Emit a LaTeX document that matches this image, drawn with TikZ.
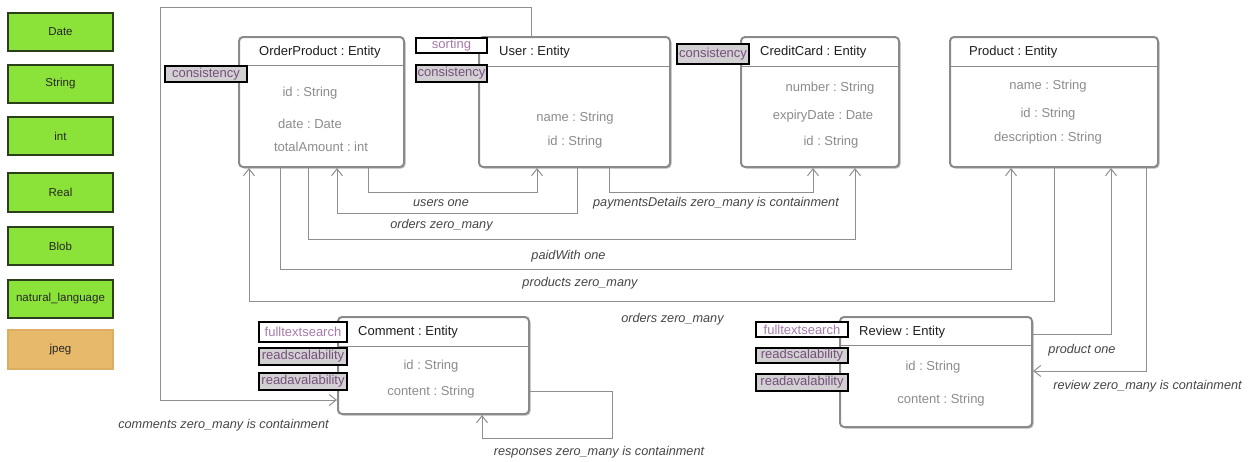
\documentclass[tikz,border=0pt]{standalone}
\usepackage{fontspec}
\setmainfont{Liberation Sans}
\usetikzlibrary{arrows.meta,shadows}
\frenchspacing
\definecolor{boxgray}{HTML}{8A8A8A}
\definecolor{linegray}{HTML}{8F8F8F}
\definecolor{attrgray}{HTML}{8C8C8C}
\definecolor{titlecol}{HTML}{1E1E1E}
\definecolor{lblgray}{HTML}{454545}
\definecolor{taggray}{HTML}{D3D0D3}
\definecolor{tagpurple}{HTML}{74507A}
\definecolor{tagpurplelight}{HTML}{A77AAA}
\definecolor{legendgreen}{HTML}{8BE33A}
\definecolor{legendborder}{HTML}{2B3F1B}
\definecolor{jpegfill}{HTML}{E7B96B}
\definecolor{jpegborder}{HTML}{DBAE62}
\tikzset{
  entity/.style={draw=boxgray, line width=2pt, rounded corners=4pt, fill=white, inner sep=0pt,
    drop shadow={shadow xshift=1.5pt, shadow yshift=-1.5pt, opacity=0.25, fill=black}},
  sep/.style={draw=boxgray, line width=0.8pt},
  ttl/.style={font=\fontsize{13}{15}\selectfont, text=titlecol, anchor=west, inner sep=0pt},
  attr/.style={font=\fontsize{13}{15}\selectfont, text=attrgray, inner sep=0pt},
  lbl/.style={font=\fontsize{12.7}{15}\selectfont\itshape, text=lblgray, inner sep=0pt},
  conn/.style={draw=linegray, line width=1pt, -{Straight Barb[length=7pt,width=11pt]}},
  tagbase/.style={draw=black, line width=1.1pt, inner sep=0pt, font=\fontsize{13}{15}\selectfont},
  tagw/.style={tagbase, fill=white, text=tagpurplelight},
  tagg/.style={tagbase, fill=taggray, text=tagpurple},
  legendbox/.style={draw=legendborder, line width=1.3pt, fill=legendgreen, minimum width=105pt,
    inner sep=0pt, font=\fontsize{11.5}{13}\selectfont, text=black!85},
  jpegbox/.style={legendbox, draw=jpegborder, fill=jpegfill}
}
\begin{document}
\begin{tikzpicture}[x=1pt,y=-1pt]
\useasboundingbox (0,0) rectangle (1252,461);
% legend
\node[legendbox, minimum height=38pt] (lDate) at (60.5,32) {Date};
\node[legendbox, minimum height=38pt] (lString) at (60.5,84) {String};
\node[legendbox, minimum height=38pt] (lint) at (60.5,136) {int};
\node[legendbox, minimum height=39pt] (lReal) at (60.5,192.5) {Real};
\node[legendbox, minimum height=38pt] (lBlob) at (60.5,246) {Blob};
\node[legendbox, minimum height=38pt] (lnat) at (60.5,299) {natural\_language};
\node[jpegbox, minimum height=39pt] (ljpeg) at (60.5,349.5) {jpeg};

% entities
\node[entity, minimum width=165pt, minimum height=130pt] (op) at (321.5,102) {};
\node[entity, minimum width=191pt, minimum height=130pt] (user) at (574.5,102) {};
\node[entity, minimum width=158pt, minimum height=130pt] (cc) at (820,102) {};
\node[entity, minimum width=208pt, minimum height=130pt] (product) at (1054,102) {};
\node[entity, minimum width=191pt, minimum height=97pt] (comment) at (433.5,365.5) {};
\node[entity, minimum width=192pt, minimum height=110pt] (review) at (936,372) {};

% header separators
\draw[sep] (op.west |- 0,65) -- (op.east |- 0,65);
\draw[sep] (user.west |- 0,66) -- (user.east |- 0,66);
\draw[sep] (cc.west |- 0,66) -- (cc.east |- 0,66);
\draw[sep] (product.west |- 0,66) -- (product.east |- 0,66);
\draw[sep] (comment.west |- 0,346) -- (comment.east |- 0,346);
\draw[sep] (review.west |- 0,345) -- (review.east |- 0,345);

% titles
\node[ttl] (opT) at (259,52) {OrderProduct : Entity};
\node[ttl] (userT) at (499,52) {User : Entity};
\node[ttl] (ccT) at (760,52) {CreditCard : Entity};
\node[ttl] (productT) at (969,52) {Product : Entity};
\node[ttl] (commentT) at (358,332) {Comment : Entity};
\node[ttl] (reviewT) at (859,332) {Review : Entity};

% attributes
\node[attr] (opA1) at (310,93) {id : String};
\node[attr] (opA2) at (310,124) {date : Date};
\node[attr] (opA3) at (321,147) {totalAmount : int};
\node[attr] (userA1) at (575,118) {name : String};
\node[attr] (userA2) at (575,142) {id : String};
\node[attr] (ccA1) at (830,88) {number : String};
\node[attr] (ccA2) at (823,116) {expiryDate : Date};
\node[attr] (ccA3) at (831,142) {id : String};
\node[attr] (productA1) at (1048,86) {name : String};
\node[attr] (productA2) at (1048,114) {id : String};
\node[attr] (productA3) at (1048,138) {description : String};
\node[attr] (commentA1) at (431,366) {id : String};
\node[attr] (commentA2) at (431,392) {content : String};
\node[attr] (reviewA1) at (933,367) {id : String};
\node[attr] (reviewA2) at (941,400) {content : String};

% connectors
\draw[conn] (user.north -| 531,0) |- (160,7) |- (comment.west |- 0,400);
\draw[conn] (op.south -| 368,0) -- ++(0,24) -| (user.south -| 537,0);
\draw[conn] (user.south -| 577,0) -- ++(0,45) -| (op.south -| 337,0);
\draw[conn] (op.south -| 308,0) -- ++(0,71) -| (cc.south -| 855,0);
\draw[conn] (user.south -| 609,0) -- ++(0,24) -| (cc.south -| 813,0);
\draw[conn] (op.south -| 280,0) -- ++(0,101) -| (product.south -| 1011,0);
\draw[conn] (product.south -| 1054,0) -- ++(0,133) -| (op.south -| 249,0);
\draw[conn] (review.east |- 0,334) -| (product.south -| 1111,0);
\draw[conn] (product.south -| 1146,0) |- (review.east |- 0,371);
\draw[conn] (comment.east |- 0,391) -| (612,438) -| (comment.south -| 482,0);

% connector labels
\node[lbl] (l1) at (223.5,425) {comments zero\_many is containment};
\node[lbl] (l2) at (441,203) {users one};
\node[lbl] (l3) at (441.5,225) {orders zero\_many};
\node[lbl] (l4) at (568.5,256) {paidWith one};
\node[lbl] (l5) at (716,203) {paymentsDetails zero\_many is containment};
\node[lbl] (l6) at (580,283) {products zero\_many};
\node[lbl] (l7) at (672.5,319) {orders zero\_many};
\node[lbl] (l8) at (1082,350) {product one};
\node[lbl] (l9) at (1147.5,386) {review zero\_many is containment};
\node[lbl] (l10) at (599,452) {responses zero\_many is containment};

% tags
\node[tagg, minimum width=82pt, minimum height=16pt] (opTag) at (206,74) {consistency};
\node[tagw, minimum width=71pt, minimum height=15pt] (userTag1) at (451.5,45.5) {sorting};
\node[tagg, minimum width=71pt, minimum height=17pt] (userTag2) at (451.5,73.5) {consistency};
\node[tagg, minimum width=72pt, minimum height=20pt] (ccTag) at (713,54) {consistency};
\node[tagw, minimum width=88pt, minimum height=20pt] (cTag1) at (303,332) {fulltextsearch};
\node[tagg, minimum width=88pt, minimum height=17pt] (cTag2) at (303,356.5) {readscalability};
\node[tagg, minimum width=88pt, minimum height=17pt] (cTag3) at (303,381.5) {readavalability};
\node[tagw, minimum width=92pt, minimum height=15pt] (rTag1) at (802,329.5) {fulltextsearch};
\node[tagg, minimum width=92pt, minimum height=15pt] (rTag2) at (802,355.5) {readscalability};
\node[tagg, minimum width=92pt, minimum height=17pt] (rTag3) at (802,382.5) {readavalability};
\end{tikzpicture}
\end{document}
